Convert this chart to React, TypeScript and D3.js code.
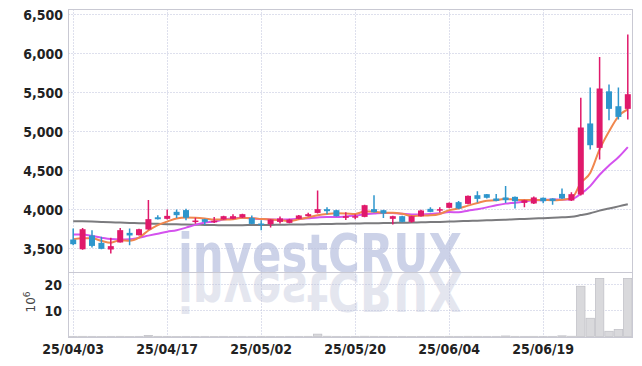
import React from "react";
import * as d3 from "d3";

// trading days (yy/mm/dd)
const dates = [
  "25/04/03", "25/04/04", "25/04/07", "25/04/08", "25/04/09", "25/04/10", "25/04/11", "25/04/14", "25/04/15", "25/04/16",
  "25/04/17", "25/04/18", "25/04/21", "25/04/22", "25/04/23", "25/04/24", "25/04/25", "25/04/28", "25/04/29", "25/04/30",
  "25/05/02", "25/05/07", "25/05/08", "25/05/09", "25/05/12", "25/05/13", "25/05/14", "25/05/15", "25/05/16", "25/05/19",
  "25/05/20", "25/05/21", "25/05/22", "25/05/23", "25/05/26", "25/05/27", "25/05/28", "25/05/29", "25/05/30", "25/06/02",
  "25/06/04", "25/06/05", "25/06/09", "25/06/10", "25/06/11", "25/06/12", "25/06/13", "25/06/16", "25/06/17", "25/06/18",
  "25/06/19", "25/06/20", "25/06/23", "25/06/24", "25/06/25", "25/06/26", "25/06/27", "25/06/30", "25/07/01", "25/07/02",
];

const opens = [
  3615, 3490, 3667, 3572, 3487, 3577, 3700, 3670, 3744, 3900,
  3880, 3970, 3992, 3850, 3876, 3846, 3872, 3880, 3897, 3892,
  3820, 3812, 3841, 3828, 3880, 3914, 3956, 4004, 3991, 3893,
  3897, 3905, 4004, 3991, 3880, 3914, 3841, 3914, 4008, 3991,
  4021, 4094, 4072, 4183, 4196, 4141, 4154, 4162, 4085, 4077,
  4150, 4141, 4200, 4115, 4192, 5103, 4790, 5515, 5324, 5290,
];
const highs = [
  3756, 3764, 3735, 3650, 3636, 3764, 3756, 3752, 4120, 3927,
  4000, 4000, 4010, 3895, 3880, 3905, 3920, 3940, 3945, 3923,
  3863, 3875, 3910, 3880, 3930, 3957, 4244, 4030, 3995, 3965,
  3940, 4060, 4183, 3995, 3920, 3920, 3920, 3995, 4030, 4030,
  4090, 4110, 4180, 4235, 4200, 4200, 4300, 4165, 4125, 4165,
  4155, 4145, 4269, 4220, 5431, 5564, 5956, 5603, 5564, 6244,
];
const lows = [
  3542, 3485, 3513, 3490, 3436, 3577, 3542, 3665, 3740, 3870,
  3870, 3892, 3863, 3818, 3800, 3828, 3868, 3875, 3890, 3810,
  3735, 3769, 3820, 3822, 3876, 3910, 3950, 3940, 3910, 3865,
  3875, 3900, 3960, 3890, 3808, 3835, 3830, 3910, 3965, 3960,
  4015, 4005, 4068, 4090, 4140, 4105, 4084, 4013, 4030, 4070,
  4080, 4060, 4135, 4110, 4180, 4769, 4641, 5145, 5154, 5154,
];
const closes = [
  3555, 3747, 3533, 3495, 3530, 3735, 3667, 3747, 3876, 3875,
  3918, 3927, 3895, 3858, 3841, 3855, 3914, 3914, 3940, 3815,
  3812, 3872, 3885, 3872, 3923, 3940, 4004, 3978, 3914, 3914,
  3914, 4055, 3965, 3949, 3914, 3841, 3914, 3987, 3969, 4004,
  4085, 4013, 4175, 4136, 4150, 4110, 4119, 4106, 4119, 4154,
  4106, 4110, 4141, 4196, 5051, 4824, 5551, 5290, 5187, 5478,
];

// moving averages
const ma5 = [
  3620, 3630, 3630, 3598, 3575, 3606, 3600, 3640, 3730, 3800,
  3845, 3885, 3898, 3893, 3883, 3870, 3872, 3876, 3893, 3888,
  3879, 3871, 3865, 3851, 3873, 3898, 3925, 3943, 3952, 3950,
  3943, 3973, 3972, 3959, 3959, 3945, 3917, 3921, 3925, 3943,
  3992, 4012, 4049, 4083, 4112, 4117, 4138, 4124, 4121, 4122,
  4121, 4119, 4126, 4141, 4340, 4468, 4770, 5000, 5195, 5285,
];
const ma10 = [
  3680, 3678, 3660, 3638, 3620, 3615, 3618, 3638, 3665, 3690,
  3715, 3735, 3767, 3803, 3834, 3846, 3870, 3887, 3893, 3887,
  3877, 3871, 3870, 3872, 3880, 3889, 3898, 3904, 3902, 3911,
  3922, 3940, 3948, 3956, 3955, 3945, 3936, 3937, 3942, 3951,
  3968, 3964, 3985, 4004, 4027, 4054, 4075, 4087, 4102, 4117,
  4119, 4129, 4125, 4131, 4200, 4300, 4445, 4565, 4670, 4800,
];
const maLong = [
  3850, 3848, 3845, 3840, 3836, 3832, 3828, 3824, 3820, 3816,
  3812, 3810, 3806, 3804, 3802, 3800, 3799, 3799, 3799, 3800,
  3801, 3802, 3804, 3806, 3808, 3810, 3812, 3814, 3816, 3818,
  3820, 3822, 3824, 3826, 3828, 3830, 3832, 3835, 3838, 3841,
  3845, 3849, 3853, 3857, 3861, 3865, 3869, 3874, 3879, 3884,
  3889, 3894, 3900, 3906, 3928, 3952, 3985, 4012, 4040, 4068,
];

// volume, millions of shares
const volumes = [
  0.05, 0.06, 0.05, 0.04, 0.05, 0.06, 0.04, 0.05, 0.4, 0.06,
  0.05, 0.04, 0.05, 0.04, 0.05, 0.04, 0.05, 0.04, 0.05, 0.05,
  0.06, 0.05, 0.04, 0.05, 0.05, 0.06, 0.9, 0.08, 0.05, 0.04,
  0.05, 0.08, 0.06, 0.05, 0.04, 0.05, 0.04, 0.05, 0.05, 0.04,
  0.06, 0.05, 0.07, 0.06, 0.05, 0.05, 0.2, 0.06, 0.05, 0.06,
  0.05, 0.05, 0.25, 0.08, 19.3, 7.0, 22.3, 2.0, 2.7, 22.3,
];

const priceTicks = [3500, 4000, 4500, 5000, 5500, 6000, 6500];
const volumeTicks = [10, 20];
const dateTicks = ["25/04/03", "25/04/17", "25/05/02", "25/05/20", "25/06/04", "25/06/19"];

const W = 642;
const H = 366;
const left = 68.5;
const right = 632.5;
const priceTop = 9.5;
const priceBottom = 272.5;
const volBottom = 337.5;

const UP = "#e0196b";
const DOWN = "#2e96cc";
const GRID = "#bcc0da";
const BORDER = "#c9c9d3";
const FONT = "'Liberation Sans Narrow', 'DejaVu Sans Condensed', 'Roboto', sans-serif";
const MARK_FONT = "'DejaVu Sans', 'Liberation Sans', sans-serif";

export default function App() {
  const x = d3.scaleBand<string>().domain(dates).range([left, right]).padding(0);
  const cx = (i: number) => (x(dates[i]) as number) + x.bandwidth() / 2;
  const y = d3.scaleLinear().domain([3192, 6564]).range([priceBottom, priceTop]);
  const yv = d3.scaleLinear().domain([0, 24.6]).range([volBottom - 1, priceBottom]);

  const line = (vals: number[]) =>
    d3
      .line<number>()
      .x((_, i) => cx(i))
      .y(d => y(d))
      .curve(d3.curveMonotoneX)(vals) as string;

  const bodyW = 6;
  const tickX = (d: string) => (x(d) as number) + x.bandwidth() / 2;

  return (
    <svg
      width={W}
      height={H}
      style={{ position: "absolute", left: 0, top: 0, background: "#fff" }}
      fontFamily={FONT}
    >
      <defs>
        <clipPath id="pclip">
          <rect x={left} y={priceTop} width={right - left} height={priceBottom - priceTop} />
        </clipPath>
      </defs>

      {/* watermark + reflection */}
      <text
        x={178}
        y={272}
        fontFamily={MARK_FONT}
        fontWeight="bold"
        fontSize={54}
        textLength={284}
        lengthAdjust="spacingAndGlyphs"
        fill="#ccd2e8"
      >
        investCRUX
      </text>
      <g transform="translate(0,545) scale(1,-1)">
        <text
          x={178}
          y={272}
          fontFamily={MARK_FONT}
          fontWeight="bold"
          fontSize={54}
          textLength={284}
          lengthAdjust="spacingAndGlyphs"
          fill="#e4e6ef"
        >
          investCRUX
        </text>
      </g>

      {/* grid */}
      <g stroke={GRID} strokeWidth={1} strokeDasharray="1 2">
        {priceTicks.map(t => (
          <line key={"p" + t} x1={left} x2={right} y1={Math.round(y(t)) + 0.5} y2={Math.round(y(t)) + 0.5} />
        ))}
        {volumeTicks.map(t => (
          <line key={"v" + t} x1={left} x2={right} y1={Math.round(yv(t)) + 0.5} y2={Math.round(yv(t)) + 0.5} />
        ))}
        {dateTicks.map(d => (
          <line key={"d" + d} x1={Math.round(tickX(d)) + 0.5} x2={Math.round(tickX(d)) + 0.5} y1={priceTop} y2={volBottom} />
        ))}
      </g>

      {/* volume */}
      <g>
        {volumes.map((v, i) => (
          <rect
            key={i}
            x={(x(dates[i]) as number) + 0.5}
            y={yv(v)}
            width={x.bandwidth() - 1}
            height={Math.max(0, yv(0) - yv(v))}
            fill="#d9d9dc"
            stroke="#c2c2c8"
            strokeWidth={0.8}
          />
        ))}
      </g>

      {/* moving averages */}
      <g clipPath="url(#pclip)" fill="none" strokeWidth={2} strokeLinejoin="round">
        <path d={line(maLong)} stroke="#7b7b7e" />
        <path d={line(ma10)} stroke="#d452ee" />
        <path d={line(ma5)} stroke="#f0874e" />
      </g>

      {/* candles */}
      <g clipPath="url(#pclip)">
        {dates.map((d, i) => {
          const up = closes[i] >= opens[i];
          const c = up ? UP : DOWN;
          const top = y(Math.max(opens[i], closes[i]));
          const bot = y(Math.min(opens[i], closes[i]));
          return (
            <g key={d}>
              <line x1={cx(i)} x2={cx(i)} y1={y(highs[i])} y2={y(lows[i])} stroke={c} strokeWidth={1.5} />
              <rect x={cx(i) - bodyW / 2} y={top} width={bodyW} height={Math.max(1.5, bot - top)} fill={c} />
            </g>
          );
        })}
      </g>

      {/* frame */}
      <g fill="none" stroke={BORDER} strokeWidth={1}>
        <rect x={left} y={priceTop} width={right - left} height={volBottom - priceTop} />
        <line x1={left} x2={right} y1={priceBottom} y2={priceBottom} />
      </g>

      {/* y labels */}
      <g fontSize={14} fontWeight="bold" fill="#222" textAnchor="end">
        {priceTicks.map(t => (
          <text key={t} x={63} y={y(t) + 6}>
            {d3.format(",")(t)}
          </text>
        ))}
        {volumeTicks.map(t => (
          <text key={t} x={62} y={yv(t) + 6}>
            {t}
          </text>
        ))}
      </g>
      <text
        transform="translate(35,302) rotate(-90)"
        textAnchor="middle"
        fontSize={12}
        fill="#444"
        fontFamily="'DejaVu Sans', sans-serif"
      >
        10<tspan dy={-5} fontSize={9}>6</tspan>
      </text>

      {/* x labels */}
      <g fontSize={14} fontWeight="bold" fill="#222" textAnchor="middle">
        {dateTicks.map(d => (
          <text key={d} x={tickX(d)} y={354}>
            {d}
          </text>
        ))}
      </g>
    </svg>
  );
}
